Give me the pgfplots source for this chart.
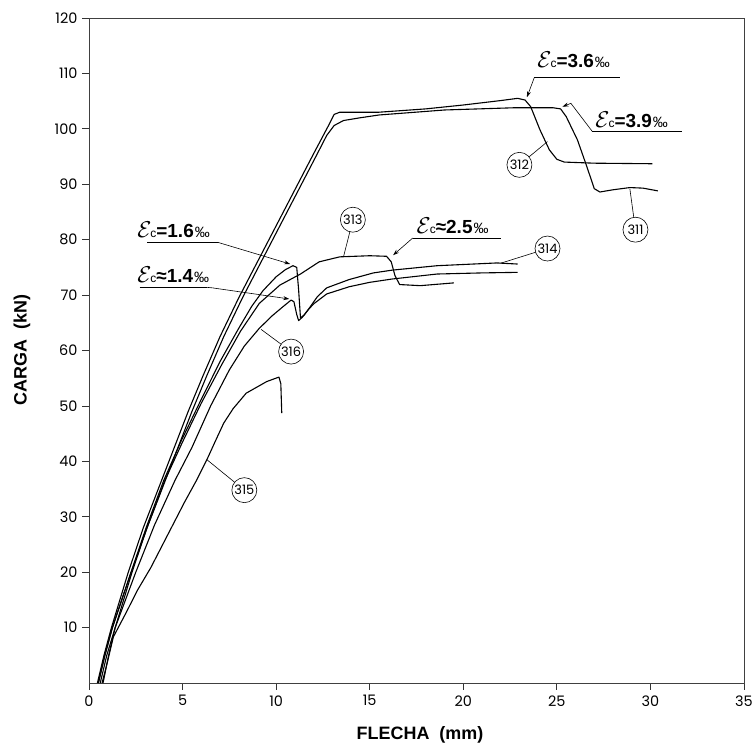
\documentclass[border=0pt]{standalone}
\usepackage{fix-cm}
\usepackage{fontspec}
\setmainfont{Liberation Sans}
\newfontfamily\tickfont{Poppins}
\usepackage{pgfplots}
\pgfplotsset{compat=1.18}
\usetikzlibrary{arrows.meta}
\newcommand{\ecann}[2]{{\fontsize{23}{23}\selectfont$\mathcal{E}$}\kern-1pt{\fontsize{12}{12}\selectfont c}{\fontsize{19}{19}\selectfont\bfseries #1#2}\kern1pt{\fontsize{15}{15}\selectfont ‰}}
\begin{document}
\begin{tikzpicture}
\path[use as bounding box] (0,0) rectangle (752bp,753bp);
\begin{axis}[
  at={(89bp,70bp)}, anchor=south west,
  width=655bp, height=665bp, scale only axis,
  xmin=0, xmax=35, ymin=0, ymax=120,
  xtick={0,5,...,35}, ytick={10,20,...,120},
  tick align=outside, tick pos=left,
  major tick length=7bp,
  axis line style={black!75, line width=0.8bp},
  every tick/.style={black!80, line width=0.8bp},
  tick label style={font=\tickfont\fontsize{14.5}{14.5}\selectfont},
  yticklabel style={xshift=-1bp},
  xticklabel style={yshift=-2bp},
  /pgf/number format/assume math mode=true,
  clip=false,
  curve/.style={black, solid, no markers, line width=1.1bp, line join=round},
]
% 312
\addplot[curve] coordinates {(0.45,0) (0.8,5) (1.2,10) (1.65,15) (2.1,20) (2.9,28) (3.7,35) (4.5,42) (5.3,49) (6.1,55.5) (7.0,62.5) (8.0,69.5) (9.0,76) (10.0,82.5) (11.0,89) (12.0,95.5) (12.8,100.6) (13.1,102.6) (13.4,103.0) (15.5,103.0) (18,103.6) (20,104.3) (22,105.1) (22.9,105.5) (23.3,105.2) (23.6,104) (24.1,99.8) (24.6,96.2) (25.0,94.5) (25.4,94.0) (27,93.8) (30.1,93.7)};
% 311
\addplot[curve] coordinates {(0.75,0) (1.05,5) (1.4,10) (1.85,15) (2.3,20) (3.1,28) (3.9,35) (4.7,42) (5.5,49) (6.3,55.5) (7.2,62.5) (8.2,69.5) (9.2,76) (10.2,82.5) (11.2,89) (12.2,95.5) (12.7,98.8) (13.1,100.6) (13.6,101.5) (14.5,102.0) (15.5,102.5) (19,103.4) (22.7,103.8) (24.8,103.8) (25.2,103.6) (25.5,102.2) (26.1,98) (26.6,93.2) (27.0,89.2) (27.3,88.6) (28,89) (28.9,89.4) (29.6,89.3) (30.4,88.8)};
% 313
\addplot[curve] coordinates {(0.5,0) (0.85,5) (1.25,10) (1.75,15) (2.25,20) (3.1,28) (4.06,36.6) (5.0,43.5) (6.0,50.5) (7.1,57.5) (8.1,63.5) (9.1,68.5) (10.2,71.8) (11.3,73.8) (12.3,76.0) (13.4,76.9) (15.0,77.1) (15.9,77.0) (16.15,76) (16.35,73.5) (16.6,71.9) (17.7,71.7) (19.5,72.2)};
% 314
\addplot[curve] coordinates {(0.5,0) (0.85,5) (1.25,10) (1.75,15) (2.25,20) (3.05,28) (4.0,36.6) (4.9,43.5) (5.9,50.5) (7.0,58) (8.0,64) (8.7,68) (9.3,70.8) (10.0,73.3) (10.5,74.6) (10.9,75.3) (11.1,75.0) (11.2,71) (11.3,65.9) (11.5,66.4) (11.7,67.3) (12.2,69.7) (12.7,71.3) (13.9,72.8) (15.2,74.0) (16.2,74.5) (18.6,75.3) (21.8,75.8) (22.9,75.6)};
% 316
\addplot[curve] coordinates {(0.6,0) (0.95,5) (1.4,10) (1.95,15) (2.5,20) (3.5,28.5) (4.6,36.6) (5.5,42.5) (6.5,50) (7.5,56.5) (8.3,60.8) (9.1,64) (9.8,66.3) (10.4,68) (10.8,69.1) (10.95,68.8) (11.1,66.5) (11.2,65.4) (11.4,66.0) (11.7,67.3) (12.0,68.4) (12.7,70.2) (13.9,71.5) (15.0,72.3) (16.2,72.9) (18.6,73.8) (21,74.0) (22.9,74.1)};
% 315
\addplot[curve] coordinates {(0.7,0) (1.0,4) (1.3,8.3) (2.0,12.8) (2.6,16.8) (3.3,20.8) (4.2,26.7) (5.1,32.6) (5.75,36.6) (6.3,40.3) (6.8,44) (7.2,46.9) (7.7,49.5) (8.4,52.3) (9.5,54.4) (10.15,55.2) (10.25,54) (10.3,48.7)};

% annotations (strain)
\node[anchor=base west, inner sep=0pt] at (axis cs:23.95,111.0) {\ecann{=}{3.6}};
\draw[line width=0.6bp] (axis cs:23.8,109.3) -- (axis cs:28.4,109.3);
\draw[line width=0.6bp, -{Stealth[length=6bp,width=4bp]}] (axis cs:23.8,109.3) -- (axis cs:23.4,105.7);

\node[anchor=base west, inner sep=0pt] at (axis cs:27.05,100.3) {\ecann{=}{3.9}};
\draw[line width=0.6bp] (axis cs:26.9,99.5) -- (axis cs:31.7,99.5);
\draw[line width=0.6bp, -{Stealth[length=6bp,width=4bp]}] (axis cs:26.9,99.5) -- (axis cs:25.75,104.6) -- (axis cs:25.3,104.0);

\node[anchor=base west, inner sep=0pt] at (axis cs:2.57,80.3) {\ecann{=}{1.6}};
\draw[line width=0.6bp] (axis cs:3.1,79.5) -- (axis cs:6.9,79.5);
\draw[line width=0.6bp, -{Stealth[length=6bp,width=4bp]}] (axis cs:6.9,79.5) -- (axis cs:10.75,75.6);

\node[anchor=base west, inner sep=0pt] at (axis cs:2.57,72.2) {\ecann{≈}{1.4}};
\draw[line width=0.6bp] (axis cs:2.7,71.4) -- (axis cs:6.3,71.4);
\draw[line width=0.6bp, -{Stealth[length=6bp,width=4bp]}] (axis cs:6.3,71.4) -- (axis cs:6.6,71.3) -- (axis cs:10.7,69.3);

\node[anchor=base west, inner sep=0pt] at (axis cs:17.5,81.2) {\ecann{≈}{2.5}};
\draw[line width=0.6bp] (axis cs:17.3,80.3) -- (axis cs:22.0,80.3);
\draw[line width=0.6bp, -{Stealth[length=6bp,width=4bp]}] (axis cs:17.3,80.3) -- (axis cs:16.25,77.2);

% specimen labels
\draw[line width=0.6bp] (axis cs:23.0,93.5) -- (axis cs:24.5,97.7);
\node[draw, circle, fill=white, line width=0.6bp, minimum size=25bp, inner sep=0pt, font=\tickfont\fontsize{13}{13}\selectfont] at (axis cs:23.0,93.5) {312};
\draw[line width=0.6bp] (axis cs:29.2,81.8) -- (axis cs:28.9,89.2);
\node[draw, circle, fill=white, line width=0.6bp, minimum size=25bp, inner sep=0pt, font=\tickfont\fontsize{13}{13}\selectfont] at (axis cs:29.2,81.8) {311};
\draw[line width=0.6bp] (axis cs:14.1,83.6) -- (axis cs:13.6,76.9);
\node[draw, circle, fill=white, line width=0.6bp, minimum size=25bp, inner sep=0pt, font=\tickfont\fontsize{13}{13}\selectfont] at (axis cs:14.1,83.6) {313};
\draw[line width=0.6bp] (axis cs:24.5,78.4) -- (axis cs:22.0,75.75);
\node[draw, circle, fill=white, line width=0.6bp, minimum size=25bp, inner sep=0pt, font=\tickfont\fontsize{13}{13}\selectfont] at (axis cs:24.5,78.4) {314};
\draw[line width=0.6bp] (axis cs:10.8,59.8) -- (axis cs:9.2,63.8);
\node[draw, circle, fill=white, line width=0.6bp, minimum size=25bp, inner sep=0pt, font=\tickfont\fontsize{13}{13}\selectfont] at (axis cs:10.8,59.8) {316};
\draw[line width=0.6bp] (axis cs:8.3,34.8) -- (axis cs:6.3,40.3);
\node[draw, circle, fill=white, line width=0.6bp, minimum size=25bp, inner sep=0pt, font=\tickfont\fontsize{13}{13}\selectfont] at (axis cs:8.3,34.8) {315};
\end{axis}
\node[font=\bfseries\fontsize{18}{18}\selectfont] at (420bp,18bp) {FLECHA\ \ (mm)};
\node[rotate=90, font=\bfseries\fontsize{18}{18}\selectfont] at (22bp,403bp) {CARGA\ \ (kN)};
\end{tikzpicture}
\end{document}
